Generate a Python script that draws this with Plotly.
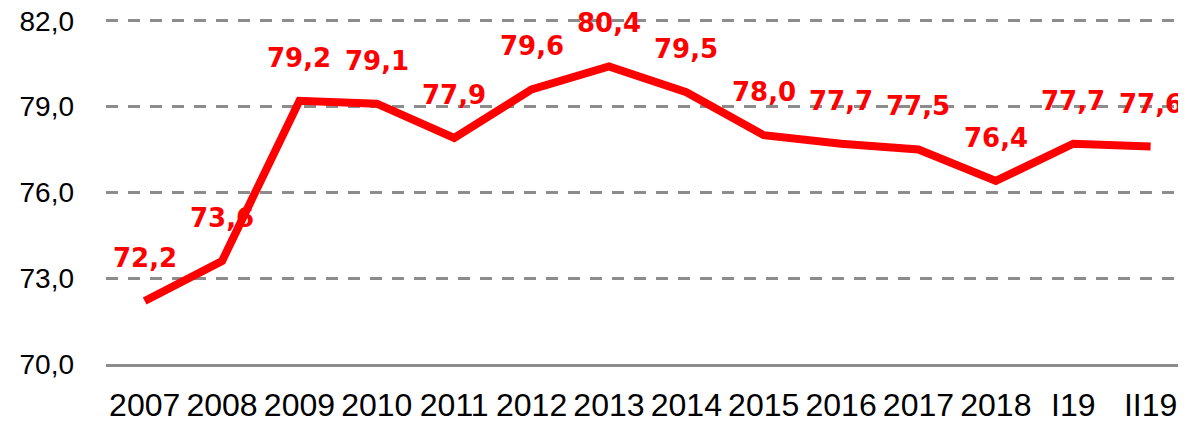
import plotly.graph_objects as go

RED = "#FF0000"
GRID = "#8C8C8C"

categories = ["2007", "2008", "2009", "2010", "2011", "2012", "2013",
              "2014", "2015", "2016", "2017", "2018", "I19", "II19"]
values = [72.2, 73.6, 79.2, 79.1, 77.9, 79.6, 80.4,
          79.5, 78.0, 77.7, 77.5, 76.4, 77.7, 77.6]
y_ticks = [70, 73, 76, 79, 82]

fig = go.Figure(
    go.Scatter(
        x=categories,
        y=values,
        mode="lines",
        line={"color": RED, "width": 8},
        hoverinfo="skip",
        showlegend=False,
    )
)

# data labels above each point (x given as category index)
for i, val in enumerate(values):
    fig.add_annotation(
        x=i,
        y=val,
        text=f"{val:.1f}".replace(".", ","),
        showarrow=False,
        yshift=43,
        font={"family": "DejaVu Sans", "size": 26, "color": RED, "weight": "bold"},
    )

# page body has an 8px margin, so the figure is a bit smaller than the window
fig.update_layout(
    width=1178,
    height=414,
    margin={"l": 98, "r": 6, "t": 7, "b": 58},
    plot_bgcolor="#FFFFFF",
    paper_bgcolor="#FFFFFF",
    font={"family": "Liberation Sans", "color": "#000000", "size": 28},
    xaxis={
        "type": "category",
        "range": [-0.5, 13.38],
        "showgrid": False,
        "showline": True,
        "linecolor": GRID,
        "linewidth": 2.5,
        "ticks": "",
        "tickfont": {"size": 32},
        "ticklabelstandoff": 11,
        "automargin": False,
    },
    yaxis={
        "range": [70, 82.2],
        "tickvals": y_ticks,
        "ticktext": [f"{v:.1f}".replace(".", ",") for v in y_ticks],
        "showgrid": True,
        "gridcolor": GRID,
        "gridwidth": 2.5,
        "griddash": "12px,10px",
        "zeroline": False,
        "ticks": "",
        "ticklabelstandoff": 31,
        "ticklabeloverflow": "allow",
        "automargin": False,
    },
)

fig.write_html("out.html")
